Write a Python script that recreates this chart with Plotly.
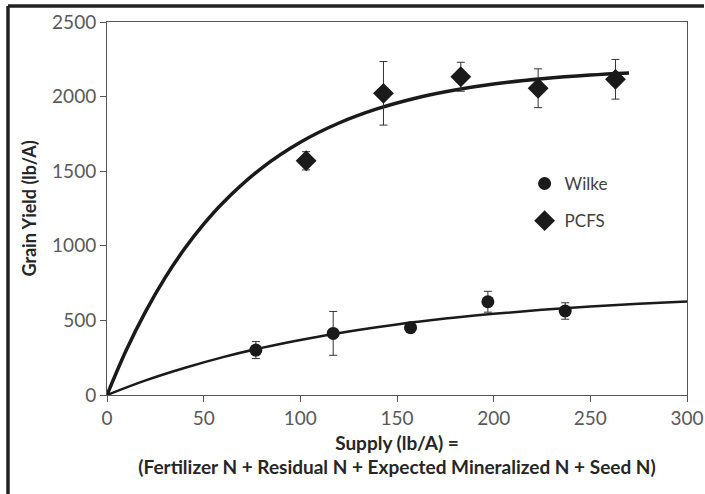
import plotly.graph_objects as go

# measured points (supply lb/A, grain yield lb/A, error)
wilke_x = [77, 117, 157, 197, 237]
wilke_y = [301, 413, 451, 625, 563]
wilke_err = [57, 147, 15, 70, 55]

pcfs_x = [103, 143, 183, 223, 263]
pcfs_y = [1570, 2022, 2133, 2056, 2116]
pcfs_err = [61, 213, 97, 130, 133]

# fitted response curves
wilke_fit_x = [0, 20, 40, 60, 80, 100, 125, 150, 175, 200, 225, 250, 275, 300]
wilke_fit_y = [0, 98, 181, 254, 316, 369, 426, 473, 512, 544, 571, 593, 611, 626]

pcfs_fit_x = [0, 10, 20, 30, 40, 50, 60, 80, 100, 120, 140, 160, 180, 200, 225, 250, 270]
pcfs_fit_y = [0, 301, 560, 785, 978, 1145, 1289, 1521, 1694, 1823, 1919, 1991, 2044, 2084, 2119, 2144, 2158]

FONT = "Lato, 'Open Sans', sans-serif"
INK = "#1a1a1a"

fig = go.Figure()

# curves
fig.add_trace(go.Scatter(x=pcfs_fit_x, y=pcfs_fit_y, mode='lines', line=dict(color=INK, width=3.5, shape='spline'),
                         showlegend=False, hoverinfo='skip'))
fig.add_trace(go.Scatter(x=wilke_fit_x, y=wilke_fit_y, mode='lines', line=dict(color=INK, width=2.5, shape='spline'),
                         showlegend=False, hoverinfo='skip'))

# points
fig.add_trace(go.Scatter(x=wilke_x, y=wilke_y, mode='markers', name='Wilke', legendgroup='w',
                         marker=dict(symbol='circle', size=13, color=INK),
                         error_y=dict(type='data', array=wilke_err, color='#333333', thickness=1, width=4)))
fig.add_trace(go.Scatter(x=pcfs_x, y=pcfs_y, mode='markers', name='PCFS', legendgroup='p',
                         marker=dict(symbol='diamond', size=16, color=INK),
                         error_y=dict(type='data', array=pcfs_err, color='#333333', thickness=1, width=4)))

# outer frame (top and left edges of the picture)
fig.add_shape(type='line', xref='paper', yref='paper', x0=-0.1707, x1=1.0293, y0=1.043, y1=1.043,
              line=dict(color='#222222', width=3.5), layer='above')
fig.add_shape(type='line', xref='paper', yref='paper', x0=-0.1707, x1=-0.1707, y0=-0.29, y1=1.043,
              line=dict(color='#222222', width=3.5), layer='above')

fig.update_layout(
    width=705, height=494,
    margin=dict(l=107, r=18, t=22, b=99, autoexpand=False),
    paper_bgcolor='white', plot_bgcolor='white',
    font=dict(family=FONT, size=14, color='#595959'),
    legend=dict(x=0.72, y=0.614, xanchor='left', yanchor='top', bgcolor='rgba(0,0,0,0)',
                font=dict(size=17, color='#404040'), tracegroupgap=12, itemwidth=30),
)
fig.update_xaxes(range=[0, 300], dtick=50, showgrid=False, zeroline=False, automargin=False,
                 showline=True, linecolor='#555555', linewidth=1, mirror=True,
                 ticks='outside', ticklen=6, tickcolor='#555555',
                 tickfont=dict(size=19, color='#595959'),
                 title=dict(text='Supply (lb/A) =<br>(Fertilizer N + Residual N + Expected Mineralized N + Seed N)',
                            font=dict(size=19, color='#262626', weight='bold'), standoff=8))
fig.update_yaxes(range=[0, 2500], dtick=500, showgrid=False, zeroline=False, automargin=False,
                 showline=True, linecolor='#555555', linewidth=1, mirror=True,
                 ticks='outside', ticklen=6, tickcolor='#555555',
                 tickfont=dict(size=19, color='#595959'),
                 title=dict(text='Grain Yield (lb/A)', font=dict(size=18, color='#262626', weight='bold'), standoff=10))

# the page's default body margin would shift the figure by 8px
fig.write_html("out.html", config={'displayModeBar': False},
               post_script="document.body.style.margin='0';")
